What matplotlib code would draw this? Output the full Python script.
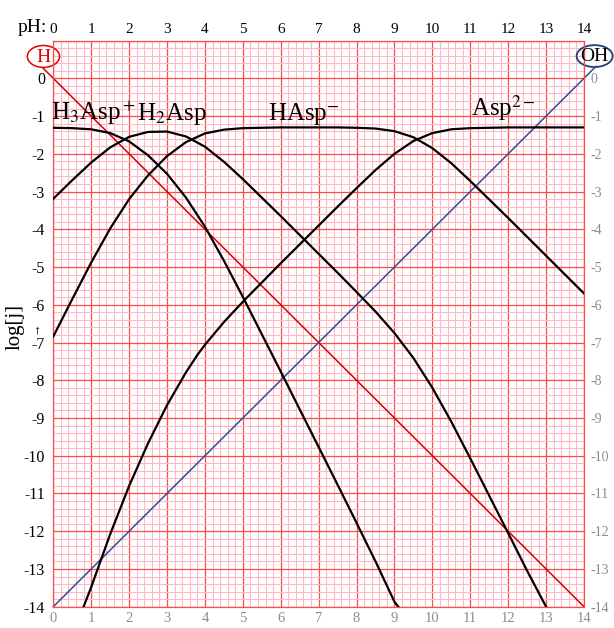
# log-concentration diagram for aspartic acid (pH 0 - 14)
import matplotlib
matplotlib.use('Agg')
import matplotlib.pyplot as plt
from matplotlib.ticker import MultipleLocator
from matplotlib.patches import Ellipse

# fonts: Times-like serif everywhere
plt.rcParams['font.family'] = ['Liberation Serif', 'DejaVu Serif']
plt.rcParams['mathtext.fontset'] = 'stix'

# ---- data ----
# H3Asp+
ph_h3a = [0, 0.5, 1, 1.5, 2, 2.5, 3, 3.5, 4, 4.5, 5, 5.5, 6, 6.5, 7, 7.5, 8, 8.5, 9, 9.1]
log_h3a = [-1.31, -1.32, -1.35, -1.45, -1.67, -2.04, -2.53, -3.16, -3.93, -4.83, -5.79,
           -6.78, -7.77, -8.77, -9.77, -10.77, -11.78, -12.80, -13.87, -14.0]

# H2Asp
ph_h2a = [0, 0.5, 1, 1.5, 2, 2.5, 3, 3.5, 4, 4.5, 5, 5.5, 6, 6.5, 7, 7.5, 8, 8.5, 9,
          9.5, 10, 10.5, 11, 11.5, 12, 12.5, 13]
log_h2a = [-3.19, -2.70, -2.23, -1.83, -1.55, -1.42, -1.41, -1.54, -1.81, -2.21, -2.67,
           -3.16, -3.65, -4.15, -4.65, -5.15, -5.66, -6.18, -6.75, -7.41, -8.20, -9.10,
           -10.07, -11.06, -12.05, -13.05, -14.0]

# HAsp-
ph_ha = [0, 0.5, 1, 1.5, 2, 2.5, 3, 3.5, 4, 4.5, 5, 5.5, 6, 6.5, 7, 7.5, 8, 8.5, 9,
         9.5, 10, 10.5, 11, 11.5, 12, 12.5, 13, 13.5, 14]
log_ha = [-6.84, -5.85, -4.88, -3.98, -3.20, -2.57, -2.06, -1.69, -1.46, -1.36, -1.32,
          -1.31, -1.30, -1.30, -1.30, -1.30, -1.31, -1.33, -1.40, -1.56, -1.85, -2.25,
          -2.72, -3.21, -3.70, -4.20, -4.70, -5.20, -5.70]

# Asp2-
ph_a = [0.8, 1, 1.5, 2, 2.5, 3, 3.5, 3.8, 4, 4.5, 5, 5.5, 6, 6.5, 7, 7.5, 8, 8.5, 9,
        9.5, 10, 10.5, 11, 11.5, 12, 12.5, 13, 13.5, 14]
log_a = [-14.0, -13.48, -12.08, -10.80, -9.67, -8.66, -7.79, -7.33, -7.06, -6.46, -5.92,
         -5.41, -4.90, -4.40, -3.90, -3.40, -2.91, -2.43, -2.00, -1.66, -1.45, -1.35,
         -1.32, -1.31, -1.30, -1.30, -1.30, -1.30, -1.30]

# H+ and OH- lines
ph_h = [-0.27, 14]
log_h = [0.27, -14]
ph_oh = [0, 14.32]
log_oh = [-14, 0.32]

# species labels
species = ['H$_3$Asp$^+$', 'H$_2$Asp', 'HAsp$^{-}$', 'Asp$^{2-}$']
label_x = [-0.06, 2.2, 5.66, 11.03]
label_y = [-1.1, -1.1, -1.1, -1.0]

x_ticks = list(range(0, 15))
y_ticks = list(range(-14, 2))
y_labels = [str(v) if v <= 0 else '' for v in y_ticks]

major_red = '#ff4b4b'
minor_pink = '#ffb8c6'
grey = '#8c8c8c'

# ---- figure ----
fig = plt.figure(figsize=(6.14, 6.28), dpi=100)
ax = fig.add_axes([53.3 / 614, 21.3 / 628, 530.7 / 614, 566.1 / 628])
ax.set_xlim(0, 14)
ax.set_ylim(-14, 1)

# grid paper
ax.set_xticks(x_ticks)
ax.set_yticks(y_ticks)
ax.set_yticklabels(y_labels)
ax.xaxis.set_minor_locator(MultipleLocator(0.2))
ax.yaxis.set_minor_locator(MultipleLocator(0.2))
ax.grid(which='minor', color=minor_pink, lw=0.8)
ax.grid(which='major', color=major_red, lw=0.9)
ax.set_axisbelow(True)
for s in ax.spines.values():
    s.set_color(major_red)
    s.set_linewidth(0.9)

ax.tick_params(which='both', length=0)
ax.tick_params(axis='x', labelcolor=grey, labelsize=10.5, pad=4)
ax.tick_params(axis='y', labelcolor='black', labelsize=11.5, pad=6)

# top pH axis (black) and right grey axis
top = ax.secondary_xaxis('top')
top.set_xticks(x_ticks)
top.tick_params(length=0, labelcolor='black', labelsize=11, pad=3)
top.spines['top'].set_visible(False)

right = ax.secondary_yaxis('right')
right.set_yticks(y_ticks)
right.set_yticklabels(y_labels)
right.tick_params(length=0, labelcolor=grey, labelsize=10, pad=5)
right.spines['right'].set_visible(False)

# species curves
for ph, lg in [(ph_h3a, log_h3a), (ph_h2a, log_h2a), (ph_ha, log_ha), (ph_a, log_a)]:
    ax.plot(ph, lg, color='black', lw=1.6, zorder=3)

# H+ and OH- lines
ax.plot(ph_h, log_h, color='#d80000', lw=1.1, zorder=2, clip_on=False)
ax.plot(ph_oh, log_oh, color='#2f4f8c', lw=1.1, zorder=2, clip_on=False)

# ellipse markers
ax.add_patch(Ellipse((-0.26, 0.58), 0.85, 0.58, fill=False, ec='#e00000', lw=1.1, clip_on=False))
ax.text(-0.26, 0.56, 'H', color='#e00000', fontsize=14, ha='center', va='center', clip_on=False)
ax.add_patch(Ellipse((14.28, 0.59), 0.95, 0.58, fill=False, ec='#1f3f73', lw=1.3, clip_on=False))
ax.text(14.28, 0.57, 'OH', color='black', fontsize=14, ha='center', va='center', clip_on=False)

# species labels
for name, lx, ly in zip(species, label_x, label_y):
    ax.text(lx, ly, name, fontsize=18, ha='left', va='baseline', zorder=4)

# axis captions
fig.text(32 / 614, 1 - 27 / 628, 'pH:', fontsize=14, ha='center', va='center')
fig.text(15 / 614, 1 - 327 / 628, 'log[j]', fontsize=15, rotation=90, ha='center', va='center')
fig.text(36 / 614, 1 - 328 / 628, '→', fontsize=9, rotation=90, ha='center', va='center')

fig.savefig('out.png', dpi=100)
